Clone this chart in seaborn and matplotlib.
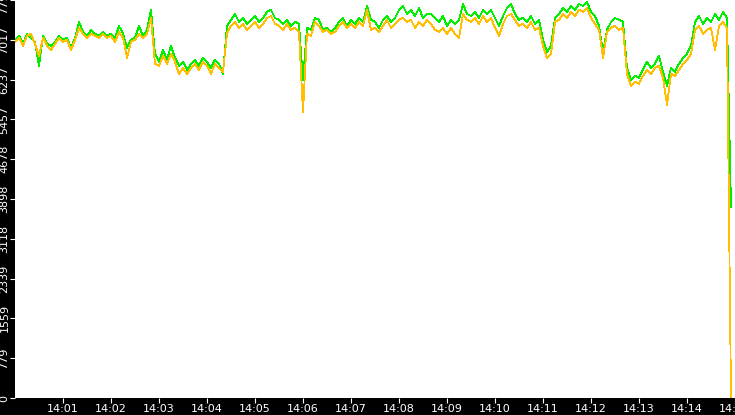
import numpy as np
import pandas as pd
import matplotlib
matplotlib.use("Agg")
import matplotlib.pyplot as plt
import matplotlib.dates as mdates
import seaborn as sns

green_vals = [
    7015, 7094, 6937, 7133, 7055, 6976, 6507, 7094, 6937, 6898,
    6976, 7094, 7015, 7055, 6859, 7055, 7367, 7172, 7094, 7211,
    7133, 7094, 7172, 7094, 7133, 7055, 7289, 7133, 6859, 7015,
    7055, 7289, 7094, 7211, 7602, 6742, 6586, 6820, 6625, 6898,
    6664, 6507, 6586, 6429, 6546, 6625, 6507, 6664, 6586, 6468,
    6625, 6546, 6351, 7289, 7406, 7523, 7367, 7445, 7328, 7406,
    7484, 7367, 7445, 7563, 7602, 7445, 7406, 7328, 7406, 7289,
    7367, 7328, 6234, 7250, 7211, 7445, 7406, 7211, 7250, 7172,
    7250, 7367, 7445, 7289, 7406, 7328, 7445, 7367, 7680, 7406,
    7367, 7250, 7406, 7484, 7367, 7445, 7602, 7680, 7523, 7602,
    7484, 7641, 7445, 7523, 7523, 7445, 7367, 7484, 7289, 7406,
    7328, 7406, 7719, 7523, 7484, 7563, 7445, 7602, 7523, 7602,
    7445, 7289, 7484, 7641, 7719, 7523, 7406, 7445, 7367, 7484,
    7328, 7406, 7015, 6781, 6898, 7445, 7523, 7641, 7563, 7680,
    7602, 7719, 7680, 7758, 7563, 7484, 7289, 6781, 7211, 7367,
    7445, 7406, 7367, 6468, 6234, 6312, 6273, 6429, 6586, 6468,
    6546, 6703, 6390, 6117, 6468, 6390, 6546, 6664, 6742, 6898,
    7367, 7484, 7328, 7445, 7367, 7523, 7406, 7563, 7445, 3733,
]

orange_vals = [
    6976, 7055, 6898, 7094, 7133, 6937, 6703, 7055, 6898, 6820,
    6937, 7055, 6976, 7015, 6820, 7015, 7250, 7133, 7055, 7133,
    7094, 7055, 7133, 7055, 7094, 6976, 7172, 7055, 6664, 6976,
    7015, 7133, 7055, 7133, 7445, 6546, 6507, 6703, 6546, 6742,
    6586, 6351, 6468, 6351, 6468, 6546, 6429, 6586, 6507, 6351,
    6546, 6468, 6390, 7133, 7289, 7367, 7250, 7328, 7211, 7289,
    7367, 7250, 7328, 7445, 7484, 7328, 7289, 7211, 7328, 7211,
    7250, 7172, 5608, 7133, 7094, 7367, 7289, 7172, 7211, 7133,
    7172, 7289, 7367, 7250, 7328, 7250, 7367, 7289, 7602, 7211,
    7250, 7172, 7289, 7406, 7250, 7328, 7406, 7445, 7367, 7406,
    7250, 7367, 7289, 7406, 7328, 7211, 7172, 7250, 7133, 7250,
    7133, 7055, 7523, 7406, 7367, 7445, 7328, 7484, 7367, 7445,
    7250, 7094, 7328, 7484, 7523, 7406, 7289, 7328, 7250, 7367,
    7211, 7250, 6898, 6664, 6742, 7367, 7406, 7523, 7445, 7563,
    7484, 7602, 7563, 7641, 7445, 7328, 7211, 6664, 7172, 7250,
    7289, 7211, 7250, 6351, 6117, 6195, 6156, 6312, 6429, 6351,
    6468, 6507, 6273, 5745, 6351, 6312, 6429, 6546, 6625, 6742,
    7211, 7289, 7133, 7211, 7250, 6820, 7289, 7367, 7250, 0,
]

start_time = "2024-01-01 14:00:00"
sample_period = "5s"
times = pd.date_range(start_time, periods=len(green_vals), freq=sample_period)

y_ticks = [0, 779, 1559, 2339, 3118, 3898, 4678, 5457, 6237, 7017, 7797]
x_tick_labels = ["14:01", "14:02", "14:03", "14:04", "14:05", "14:06", "14:07",
                 "14:08", "14:09", "14:10", "14:11", "14:12", "14:13", "14:14", "14:15"]

df = pd.DataFrame({"time": times, "green": green_vals, "orange": orange_vals})

sns.set_theme(style="white")
plt.rcParams['font.family'] = ['DejaVu Sans']

fig = plt.figure(figsize=(7.35, 4.15), dpi=100, facecolor="black")
ax = fig.add_axes([15 / 735, 17 / 415, 720 / 735, 398 / 415])
ax.set_facecolor("white")

sns.lineplot(data=df, x="time", y="green", ax=ax, color="#00ee00",
             linewidth=0.6, antialiased=False)
sns.lineplot(data=df, x="time", y="orange", ax=ax, color="#ffbf00",
             linewidth=0.6, antialiased=False)

ax.set_ylim(0, 7797)
ax.set_xlim(pd.Timestamp("2024-01-01 14:00:00"), pd.Timestamp("2024-01-01 14:15:00"))
ax.set_yticks(y_ticks)
ax.set_yticklabels([str(v) for v in y_ticks], rotation=90, va="center")
xt = [pd.Timestamp("2024-01-01 " + s + ":00") for s in x_tick_labels]
ax.set_xticks(xt)
ax.set_xticklabels(x_tick_labels)
ax.set_xlabel("")
ax.set_ylabel("")
for s in ax.spines.values():
    s.set_visible(False)
ax.tick_params(axis="both", colors="white", labelcolor="white", labelsize=8,
               direction="out", length=3.5, width=0.8, left=True, bottom=True)
ax.tick_params(axis="y", pad=0.5)
ax.tick_params(axis="x", pad=1.0)
ax.grid(False)

fig.savefig("out.png", dpi=100, facecolor="black")
